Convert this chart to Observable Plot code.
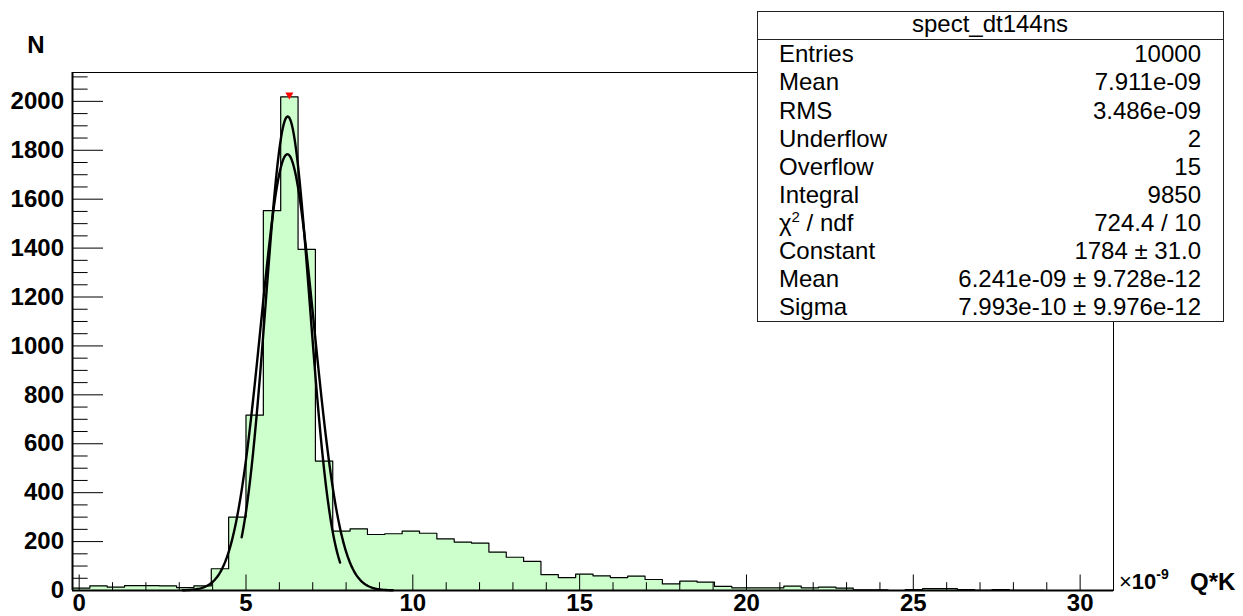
<!DOCTYPE html>
<html><head><meta charset="utf-8">
<script src="https://cdn.jsdelivr.net/npm/d3@7"></script>
<script src="https://cdn.jsdelivr.net/npm/@observablehq/plot@0.6"></script>
<style>body{margin:0;background:#fff} svg{display:block}</style>
</head><body><div id="chart"></div>
<script>
// Histogram: 60 bins from -0.2 to 31.0 (x10^-9)
const binStart = -0.2, binWidth = 0.52;
const counts = [10,19,14,20,20,19,12,19,
  89,300,717,1553,2018,1395,529,
  243,252,229,232,243,234,211,198,194,157,136,119,65,53,67,60,53,59,45,27,38,34,17,
  11,11,11,18,11,14,10,3,3,0,4,8,8,4,1,4,1,1,0,0,0,0];

// Gaussian fits (constant, mean, sigma in units of 1e-9) and drawn range
const fitMain = {constant: 1784, mean: 6.241, sigma: 0.7993, from: 3.1, to: 9.4};
const fitNarrow = {constant: 1938, mean: 6.25, sigma: 0.66, from: 4.87, to: 7.82};

// Peak marker
const peakMarker = [{x: 6.3, y: 2018}];

// Axis ticks
const xMajor = [0, 5, 10, 15, 20, 25, 30];
const xMinor = [1,2,3,4,6,7,8,9,11,12,13,14,16,17,18,19,21,22,23,24,26,27,28,29];
const yMajor = [0,200,400,600,800,1000,1200,1400,1600,1800,2000];
const yMinor = [50,100,150,250,300,350,450,500,550,650,700,750,850,900,950,1050,1100,1150,1250,1300,1350,1450,1500,1550,1650,1700,1750,1850,1900,1950,2050,2100];

// Stats box
const statTitle = "spect_dt144ns";
const statLabels = ["Entries","Mean","RMS","Underflow","Overflow","Integral","χ2 / ndf","Constant","Mean","Sigma"];
const statValues = ["10000","7.911e-09","3.486e-09","2","15","9850","724.4 / 10","1784 ± 31.0","6.241e-09 ± 9.728e-12","7.993e-10 ± 9.976e-12"];

const bins = counts.map((n, i) => ({x1: binStart + i * binWidth, x2: binStart + (i + 1) * binWidth, n}));
const outline = bins.map(b => ({x: b.x1, y: b.n})).concat([{x: bins[bins.length - 1].x2, y: counts[counts.length - 1]}]);

function gaussPts(f) {
  const pts = [];
  const steps = 200;
  for (let i = 0; i <= steps; i++) {
    const x = f.from + (f.to - f.from) * i / steps;
    pts.push({x, y: f.constant * Math.exp(-0.5 * ((x - f.mean) / f.sigma) ** 2)});
  }
  return pts;
}

const FONT = "'Liberation Sans', Arial, Helvetica, sans-serif";

const chart = Plot.plot({
  width: 1243, height: 616,
  marginLeft: 72, marginRight: 130, marginTop: 72, marginBottom: 26,
  style: {fontFamily: FONT, background: "white", color: "black"},
  x: {domain: [binStart, 31.0]},
  y: {domain: [0, 2118]},
  marks: [
    Plot.areaY(outline, {x: "x", y: "y", curve: "step-after", fill: "#ccffcc"}),
    Plot.line(outline, {x: "x", y: "y", curve: "step-after", stroke: "black", strokeWidth: 1.2}),
    Plot.line(gaussPts(fitMain), {x: "x", y: "y", stroke: "black", strokeWidth: 2.4}),
    Plot.line(gaussPts(fitNarrow), {x: "x", y: "y", stroke: "black", strokeWidth: 2.4}),
    Plot.dot(peakMarker, {x: "x", y: "y", symbol: "triangle", rotate: 180, r: 3, fill: "red", stroke: "none", dy: -2}),
    Plot.frame({stroke: "black", strokeWidth: 1}),
    Plot.ruleY([0], {stroke: "black", strokeWidth: 2}),
    Plot.ruleX([binStart], {stroke: "black", strokeWidth: 2}),
    Plot.axisX(xMinor, {anchor: "bottom", tickSize: -7.8, fill: "none", label: null}),
    Plot.axisX(xMajor, {anchor: "bottom", tickSize: -15.5, tickPadding: 18.5, tickFormat: d => String(d),
      fontSize: 24, fontWeight: "bold", label: null}),
    Plot.axisY(yMinor, {anchor: "left", tickSize: -15.6, fill: "none", label: null}),
    Plot.axisY(yMajor, {anchor: "left", tickSize: -31, tickPadding: 39.5, tickFormat: d => String(d),
      fontSize: 24, fontWeight: "bold", label: null})
  ]
});
document.getElementById("chart").append(chart);

const svg = d3.select(chart);
// Axis titles
svg.append("text").attr("x", 36).attr("y", 53).attr("text-anchor", "middle")
  .attr("font-family", FONT).attr("font-size", 24).attr("font-weight", "bold").text("N");
svg.append("text").attr("x", 1190).attr("y", 590).attr("text-anchor", "start")
  .attr("font-family", FONT).attr("font-size", 24).attr("font-weight", "bold").text("Q*K");
const mult = svg.append("text").attr("x", 1119).attr("y", 589).attr("text-anchor", "start")
  .attr("font-family", FONT).attr("font-size", 22);
mult.append("tspan").text("×");
mult.append("tspan").attr("font-weight", "bold").text("10");
mult.append("tspan").attr("font-weight", "bold").attr("font-size", 14).attr("dy", -10).text("-9");

// Stats box
const box = svg.append("g").attr("font-family", FONT).attr("font-size", 24);
box.append("rect").attr("x", 757.5).attr("y", 11.5).attr("width", 466).attr("height", 310)
  .attr("fill", "white").attr("stroke", "#222").attr("stroke-width", 1);
box.append("line").attr("x1", 757.5).attr("x2", 1223.5).attr("y1", 39.5).attr("y2", 39.5)
  .attr("stroke", "#222").attr("stroke-width", 1);
box.append("text").attr("x", 990).attr("y", 32).attr("text-anchor", "middle").text(statTitle);
statLabels.forEach((lab, i) => {
  const y = 62.3 + 28.1 * i;
  const t = box.append("text").attr("x", 779).attr("y", y).attr("text-anchor", "start");
  if (lab.startsWith("χ2")) {
    t.append("tspan").text("χ");
    t.append("tspan").attr("font-size", 15).attr("dy", -9).text("2");
    t.append("tspan").attr("dy", 9).text(" / ndf");
  } else {
    t.text(lab);
  }
  box.append("text").attr("x", 1201).attr("y", y).attr("text-anchor", "end").text(statValues[i]);
});
</script>
</body></html>
